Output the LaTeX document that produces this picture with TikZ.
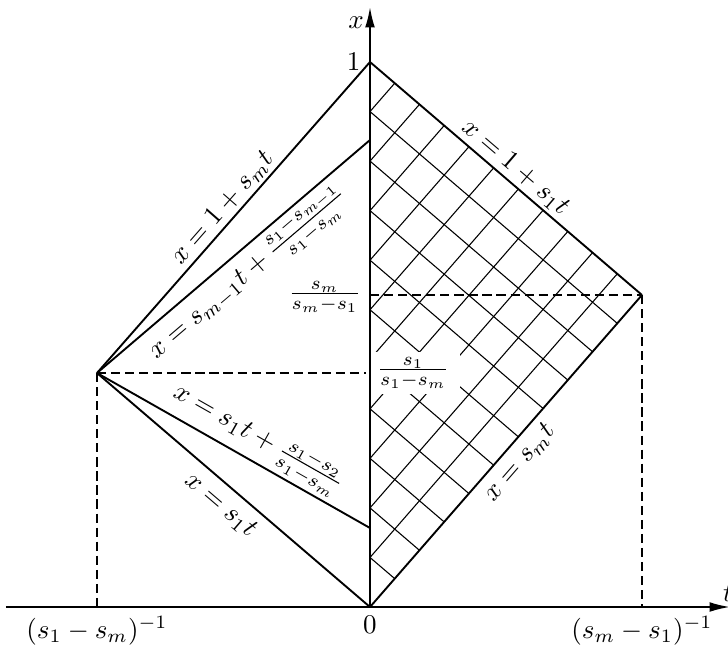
\documentclass[tikz,border=0pt]{standalone}
\usetikzlibrary{arrows.meta,calc}
\begin{document}
\begin{tikzpicture}[x=0.37pt,y=0.37pt,
  mainline/.style={line width=0.7pt},
  gridline/.style={line width=0.4pt},
  guide/.style={line width=0.6pt,dash pattern=on 3.4pt off 1.8pt},
  axisline/.style={line width=0.7pt,-{Latex[length=7.5pt,width=3.6pt]}},
  lbl/.style={sloped,inner sep=1pt}]
\useasboundingbox (-370,-37) rectangle (358,607);
\coordinate (O) at (0,0);
\coordinate (A) at (0,545);
\coordinate (B) at (272,312);
\coordinate (L) at (-273,234);
\coordinate (C) at (0,467);
\coordinate (D) at (0,79);
\coordinate (Lb) at (-273,0);
\coordinate (Bb) at (272,0);
\coordinate (Lc) at (0,234);
\coordinate (Bc) at (0,312);
\coordinate (tend) at (360,0);
\coordinate (tstart) at (-364,0);
\coordinate (xend) at (0,600);

% grid
\foreach \j in {1,...,10}
  \draw[gridline] ($(B)!{\j/11}!(A)$) -- ($(O)!{\j/11}!(A)$) -- ($(O)!{\j/11}!(B)$);

% dashed guides
\draw[guide] (L) -- (Lc);
\draw[guide] (L) -- (Lb);
\draw[guide] (Bc) -- (B);
\draw[guide] (B) -- (Bb);

% value labels on the x axis
\node[fill=white, inner xsep=4pt, inner ysep=2pt] (f1) at (43,234) {$\frac{s_1}{s_1-s_m}$};
\node[anchor=east, inner sep=1pt] (fm) at (-6,310) {$\frac{s_m}{s_m-s_1}$};

% main lines
\draw[mainline] (L) -- node[lbl,above,pos=0.5]{$x=1+s_mt$} (A);
\draw[mainline] (L) -- node[lbl,below,pos=0.5]{$x=s_{m-1}t+\frac{s_1-s_{m-1}}{s_1-s_m}$} (C);
\draw[mainline] (L) -- node[sloped,anchor=base,pos=0.55]{\raisebox{6.2pt}{$x=s_1t+\frac{s_1-s_2}{s_1-s_m}$}} (D);
\draw[mainline] (L) -- node[sloped,below,inner sep=3.3pt,pos=0.5]{$x=s_1t$} (O);
\draw[mainline] (A) -- node[lbl,above,pos=0.5]{$x=1+s_1t$} (B);
\draw[mainline] (O) -- node[sloped,below,inner sep=2.6pt,pos=0.5]{$x=s_mt$} (B);

% axes
\draw[axisline] (tstart) -- (tend);
\draw[axisline] (O) -- (xend);
\node (xl) at (-14,584) {$x$};
\node (tl) at (358,14) {$t$};
\node[left] (one) at (A) {$1$};
\node[below] (zero) at (O) {$0$};
\node[below] (lt) at (Lb) {$(s_1-s_m)^{-1}$};
\node[below] (rt) at (Bb) {$(s_m-s_1)^{-1}$};
\end{tikzpicture}
\end{document}
